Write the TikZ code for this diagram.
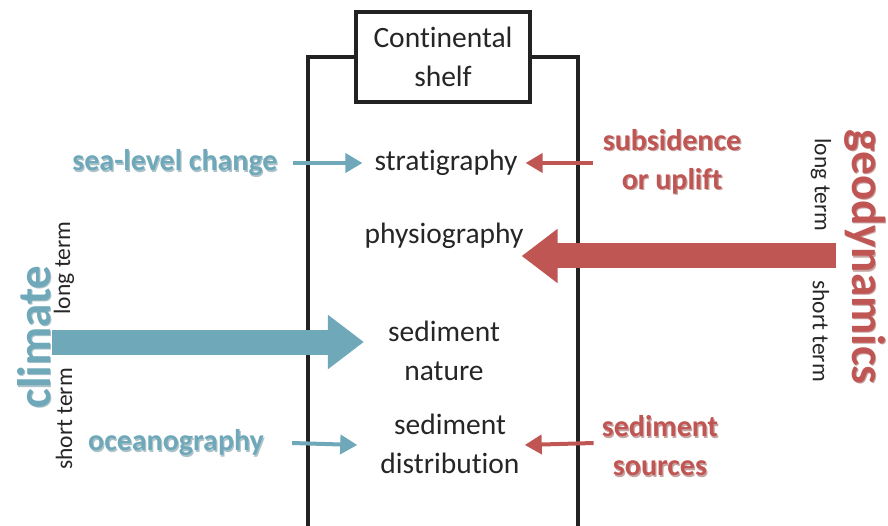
\documentclass[tikz,border=0pt]{standalone}
\usepackage{fontspec}
\setmainfont{Carlito}[Ligatures=NoCommon]
\usetikzlibrary{arrows.meta}
\definecolor{teal1}{RGB}{110,168,185}
\definecolor{teal2}{RGB}{70,120,135}
\definecolor{red1}{RGB}{192,86,84}
\definecolor{red2}{RGB}{130,50,48}
\definecolor{ink}{RGB}{38,38,38}
\definecolor{frame}{RGB}{34,34,34}
\tikzset{
  x=1pt, y=-1pt,
  plain/.style={text=ink, inner sep=0pt, align=center,
    font=\fontsize{29.5}{39.5}\selectfont},
  small/.style={text=ink, inner sep=0pt,
    font=\fontsize{23.5}{28}\selectfont},
  label/.style={inner sep=0pt, align=center,
    font=\fontsize{30}{39}\selectfont\bfseries},
  biglabel/.style={inner sep=0pt,
    font=\fontsize{47}{56}\selectfont\bfseries},
  shade/.style={opacity=0.45},
  thinarrow/.style={line width=4pt,
    -{Triangle[length=17pt,width=19pt]}},
  bigarrow/.style={line width=25pt,
    -{Triangle[length=36pt,width=52pt]}},
}
\begin{document}
\begin{tikzpicture}
\useasboundingbox (0,0) rectangle (888,526);

% shelf frame, open at the bottom
\draw[frame, line width=4pt] (308,530) -- (308,57) -- (578,57) -- (578,530);
\node[draw=frame, line width=4pt, fill=white, minimum width=174pt,
      minimum height=90pt, plain] (shelf) at (443,57)
      {Continental\\shelf};

% processes recorded on the shelf
\node[plain] (strat) at (446,163) {stratigraphy};
\node[plain] (phys) at (444,236) {physiography};
\node[plain] (nature) at (444,351) {sediment\\nature};
\node[plain] (distr) at (450,444) {sediment\\distribution};

% climate side
\node[label, text=teal2, shade] at (176.2,164.2) {sea-level change};
\node[label, text=teal1] (slc) at (175,163) {sea-level change};
\node[label, text=teal2, shade] at (177.2,444.2) {oceanography};
\node[label, text=teal1] (ocean) at (176,443) {oceanography};
\node[biglabel, text=teal2, shade, rotate=90] at (35.2,338.2) {climate};
\node[biglabel, text=teal1, rotate=90] (climate) at (34,337) {climate};
\node[small, rotate=90] (cl-long) at (64,268) {long term};
\node[small, rotate=90] (cl-short) at (64,419) {short term};

% geodynamics side
\node[label, text=red2, shade] at (673.2,163.2) {subsidence\\or uplift};
\node[label, text=red1] (subs) at (672,162) {subsidence\\or uplift};
\node[label, text=red2, shade] at (661.2,447.2) {sediment\\sources};
\node[label, text=red1] (src) at (660,446) {sediment\\sources};
\node[biglabel, text=red2, shade, rotate=-90] at (866.2,258.2) {geodynamics};
\node[biglabel, text=red1, rotate=-90] (geo) at (865,257) {geodynamics};
\node[small, rotate=-90] (ge-long) at (821,185) {long term};
\node[small, rotate=-90] (ge-short) at (821,331) {short term};

% thin arrows
\draw[thinarrow, teal1] ([xshift=15pt]slc.east) -- ([xshift=-12pt]strat.west);
\draw[thinarrow, teal1] ([xshift=28pt]ocean.east |- distr.west) ++(0,-1) -- ([xshift=-23pt,yshift=-1pt]distr.west);
\draw[thinarrow, red1] ([xshift=-10pt]subs.west |- strat.east) -- ([xshift=8pt]strat.east);
\draw[thinarrow, red1] ([xshift=-8pt]src.west |- distr.east) ++(0,-1) -- ([xshift=5pt,yshift=-1pt]distr.east);

% broad arrows
\coordinate (cl-tail) at (52,342);
\coordinate (ge-tail) at (836,256);
\draw[bigarrow, teal1] (cl-tail) -- ([xshift=-24pt]nature.west |- cl-tail);
\draw[bigarrow, red1] (ge-tail) -- ([xshift=-2pt]phys.east |- ge-tail);
\end{tikzpicture}
\end{document}
